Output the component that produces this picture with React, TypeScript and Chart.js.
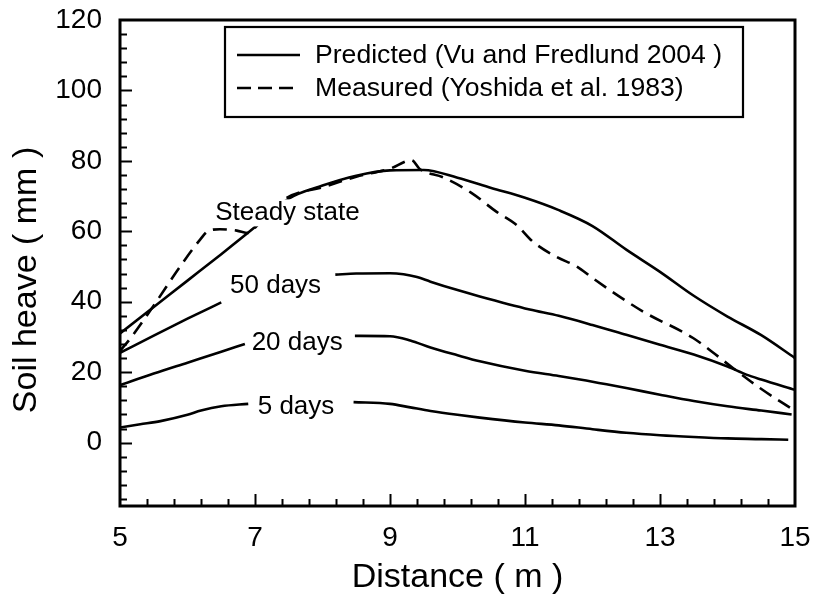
import React, { useEffect, useRef } from 'react';
import { Chart, registerables } from 'chart.js';

Chart.register(...registerables);

// ---- axis ranges and ticks ----
const X_MIN = 5;
const X_MAX = 15;
const Y_MIN = -18;
const Y_MAX = 120;
const xLabelValues = [5, 7, 9, 11, 13, 15];
const xTickValues = [5.4, 5.8, 6.2, 6.6, 7, 7.4, 7.8, 8.2, 8.6, 9, 9.4, 9.8, 10.2, 10.6, 11, 11.4, 11.8, 12.2, 12.6, 13, 13.4, 13.8, 14.2, 14.6];
const yLabelValues = [0, 20, 40, 60, 80, 100, 120];
const yTickValues = [-16, -12, -8, -4, 0, 4, 8, 12, 16, 20, 24, 28, 32, 36, 40, 44, 48, 52, 56, 60, 64, 68, 72, 76, 80, 84, 88, 92, 96, 100, 104, 108, 112, 116];

// ---- series ----
const steadyX = [5, 5.5, 6, 6.5, 7, 7.5, 8, 8.5, 9, 9.5, 10, 10.5, 11, 11.5, 12, 12.5, 13, 13.5, 14, 14.5, 15];
const steadyY = [31, 38.5, 46, 53.5, 61.2, 69.3, 73, 75.8, 77.3, 77.4, 75.2, 72.3, 69.5, 66, 61.5, 54.8, 48.5, 41.7, 35.8, 30.5, 24];

const measuredX = [5, 5.17, 5.52, 5.89, 6.19, 6.3, 6.48, 6.73, 6.9, 7.05, 7.47, 8, 8.5, 9, 9.32, 9.44, 9.79, 10.2, 10.58, 10.88, 11.12, 11.47, 11.77, 12.01, 12.75, 13.49, 14.08, 14.48, 15];
const measuredY = [26, 30, 39.5, 50, 57.7, 60, 60.6, 60.2, 59.5, 62, 69.5, 72.5, 75.5, 77.8, 80.2, 77.7, 75.3, 71, 65.5, 61.7, 57, 52.7, 50, 46.6, 37.2, 29.7, 21.2, 15.5, 9];

const days50X = [5, 5.5, 6, 6.5, 7.5, 8.19, 8.5, 9, 9.2, 9.4, 9.6, 10, 10.33, 11.07, 11.5, 12, 12.5, 13, 13.5, 14, 14.28, 14.5, 15];
const days50Y = [25.5, 30.4, 35.2, 39.8, null, 47.7, 48, 48.1, 47.8, 47, 45.7, 43.3, 41.5, 37.8, 36, 33.4, 30.6, 27.8, 25, 21.6, 19.3, 17.9, 15];

const days20X = [5, 5.5, 6, 6.5, 6.85, 7.5, 8.48, 9, 9.3, 9.6, 10, 10.33, 11, 11.5, 12, 12.5, 13, 13.5, 14, 14.5, 14.95];
const days20Y = [16.3, 19.6, 22.7, 25.8, 28, null, 30.3, 30.2, 29, 27, 24.8, 23.1, 20.4, 18.9, 17.3, 15.5, 13.6, 11.8, 10.3, 9.1, 8];

const days5X = [5, 5.3, 5.6, 6, 6.2, 6.5, 6.9, 7.5, 8.46, 9, 9.3, 9.6, 10, 10.33, 11, 11.5, 12, 12.5, 13, 13.5, 14, 14.5, 14.9];
const days5Y = [4.3, 5.2, 6.1, 7.9, 9.1, 10.3, 11, null, 11.5, 11, 10, 9, 7.9, 7.1, 5.7, 4.9, 3.8, 2.8, 2.1, 1.6, 1.2, 1, 0.8];

const seriesNames = ['Steady state', '50 days', '20 days', '5 days', 'Measured'];
const legendLabels = ['Predicted (Vu and Fredlund 2004 )', 'Measured (Yoshida et al. 1983)'];
const xTitle = 'Distance ( m )';
const yTitle = 'Soil heave ( mm )';

// curve label anchors (data coordinates of text left/baseline)
const curveLabels = [
  { text: 'Steady state', x: 6.41, y: 63.1, knockout: true },
  { text: '50 days', x: 6.63, y: 42.4, knockout: false },
  { text: '20 days', x: 6.95, y: 26.4, knockout: false },
  { text: '5 days', x: 7.04, y: 8.0, knockout: false },
];

const FONT = '"Liberation Sans", Arial, Helvetica, sans-serif';

const toPoints = (xs: number[], ys: (number | null)[]) => xs.map((x, i) => ({ x, y: ys[i] }));

const decorPlugin = {
  id: 'decor',
  afterDatasetsDraw(chart: any) {
    const { ctx, chartArea: a, scales } = chart;
    const xs = scales.x;
    const ys = scales.y;
    ctx.save();

    // curve labels
    ctx.font = `26px ${FONT}`;
    ctx.textAlign = 'left';
    ctx.textBaseline = 'alphabetic';
    for (const c of curveLabels) {
      const px = xs.getPixelForValue(c.x);
      const py = ys.getPixelForValue(c.y);
      if (c.knockout) {
        const m = ctx.measureText(c.text);
        ctx.fillStyle = '#fff';
        ctx.fillRect(px - 2, py - m.actualBoundingBoxAscent - 2, m.width + 4, m.actualBoundingBoxAscent + m.actualBoundingBoxDescent + 3);
      }
      ctx.fillStyle = '#000';
      ctx.fillText(c.text, px, py);
    }

    // legend box
    const bx = a.left + 105;
    const by = a.top + 7;
    const bw = 518;
    const bh = 90;
    ctx.fillStyle = '#fff';
    ctx.fillRect(bx, by, bw, bh);
    ctx.strokeStyle = '#000';
    ctx.lineWidth = 2.2;
    ctx.strokeRect(bx, by, bw, bh);
    const rows = [by + 28, by + 61];
    ctx.font = `26.6px ${FONT}`;
    ctx.textBaseline = 'middle';
    legendLabels.forEach((lab, i) => {
      ctx.beginPath();
      ctx.lineWidth = 2.6;
      ctx.setLineDash(i === 1 ? [14, 7] : []);
      ctx.moveTo(bx + 12, rows[i]);
      ctx.lineTo(bx + (i === 1 ? 70 : 75), rows[i]);
      ctx.stroke();
      ctx.setLineDash([]);
      ctx.fillStyle = '#000';
      ctx.fillText(lab, bx + 90, rows[i] + 1);
    });

    // frame
    ctx.lineWidth = 3;
    ctx.strokeStyle = '#000';
    ctx.strokeRect(a.left, a.top, a.right - a.left, a.bottom - a.top);

    // inward ticks
    ctx.lineWidth = 2;
    for (const v of yTickValues) {
      const py = Math.round(ys.getPixelForValue(v)) + 0.5;
      const len = yLabelValues.includes(v) ? 12 : 7;
      ctx.beginPath();
      ctx.moveTo(a.left, py);
      ctx.lineTo(a.left + len, py);
      ctx.stroke();
    }
    for (const v of xTickValues) {
      const px = Math.round(xs.getPixelForValue(v)) + 0.5;
      const len = xLabelValues.includes(v) ? 12 : 7;
      ctx.beginPath();
      ctx.moveTo(px, a.bottom);
      ctx.lineTo(px, a.bottom - len);
      ctx.stroke();
    }

    // y title
    ctx.font = `34px ${FONT}`;
    ctx.textAlign = 'center';
    ctx.textBaseline = 'middle';
    ctx.fillStyle = '#000';
    ctx.translate(27, (a.top + a.bottom) / 2 + 17);
    ctx.rotate(-Math.PI / 2);
    ctx.fillText(yTitle, 0, 0);
    ctx.restore();
  },
};

export default function App() {
  const ref = useRef<HTMLCanvasElement>(null);
  useEffect(() => {
    document.body.style.margin = '0';
    document.body.style.background = '#fff';
    const canvas = ref.current!;
    const lineStyle = {
      borderColor: '#000',
      borderWidth: 2.6,
      pointRadius: 0,
      fill: false,
      cubicInterpolationMode: 'monotone' as const,
      spanGaps: false,
    };
    const chart = new Chart(canvas, {
      type: 'line',
      data: {
        datasets: [
          { label: seriesNames[0], data: toPoints(steadyX, steadyY), ...lineStyle },
          { label: seriesNames[1], data: toPoints(days50X, days50Y), ...lineStyle },
          { label: seriesNames[2], data: toPoints(days20X, days20Y), ...lineStyle },
          { label: seriesNames[3], data: toPoints(days5X, days5Y), ...lineStyle },
          { label: seriesNames[4], data: toPoints(measuredX, measuredY), ...lineStyle, borderDash: [14, 8] },
        ] as any,
      },
      options: {
        responsive: false,
        animation: false,
        layout: { padding: { top: 20, right: 21, left: 0, bottom: 0 } },
        plugins: { legend: { display: false }, tooltip: { enabled: false } },
        scales: {
          x: {
            type: 'linear',
            min: X_MIN,
            max: X_MAX,
            grid: { display: false, drawTicks: false },
            border: { display: false },
            afterBuildTicks: (s: any) => { s.ticks = xLabelValues.map((v) => ({ value: v })); },
            afterFit: (s: any) => { s.height = 92; s.paddingLeft = 0; s.paddingRight = 0; },
            ticks: {
              autoSkip: false,
              maxRotation: 0,
              padding: 15,
              color: '#000',
              font: { family: FONT, size: 28 },
              callback: (v: any) => String(v),
            },
            title: {
              display: true,
              text: xTitle,
              color: '#000',
              font: { family: FONT, size: 34 },
              padding: { top: 0, bottom: 0 },
            },
          },
          y: {
            type: 'linear',
            min: Y_MIN,
            max: Y_MAX,
            grid: { display: false, drawTicks: false },
            border: { display: false },
            afterBuildTicks: (s: any) => { s.ticks = yLabelValues.map((v) => ({ value: v })); },
            afterFit: (s: any) => { s.width = 120; s.paddingTop = 0; s.paddingBottom = 0; },
            ticks: {
              autoSkip: false,
              padding: 18,
              color: '#000',
              font: { family: FONT, size: 28 },
              callback: (v: any) => String(v),
            },
          },
        },
      } as any,
      plugins: [decorPlugin],
    });
    return () => chart.destroy();
  }, []);
  return <canvas ref={ref} width={816} height={598} style={{ display: 'block' }} />;
}
